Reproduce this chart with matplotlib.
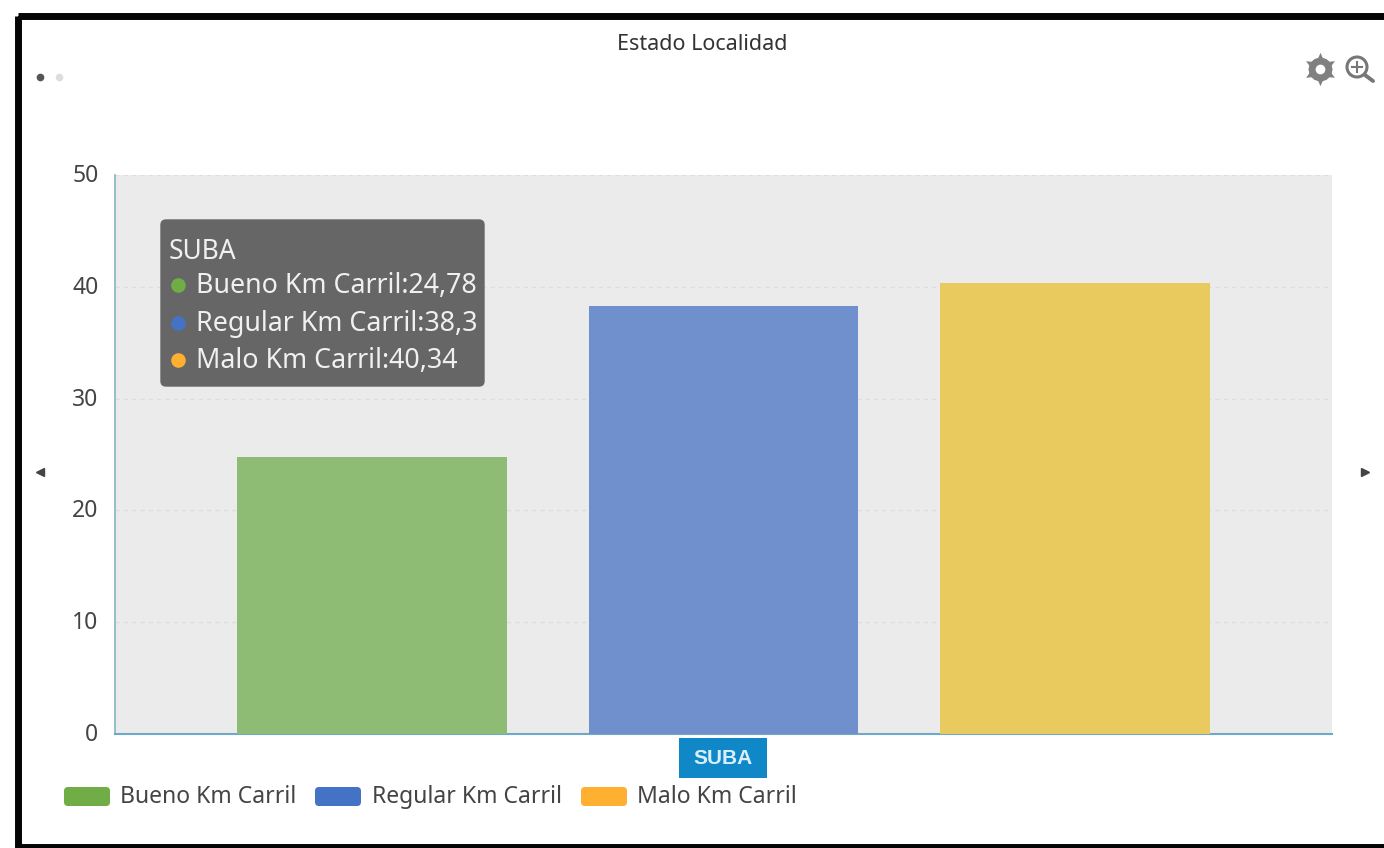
import matplotlib
matplotlib.use("Agg")
import matplotlib.pyplot as plt
from matplotlib.patches import FancyBboxPatch, Circle, Rectangle
from matplotlib.transforms import ScaledTranslation

plt.rcParams['font.family'] = ['Noto Sans', 'DejaVu Sans']

# Data
series_names = ["Bueno Km Carril", "Regular Km Carril", "Malo Km Carril"]
series_values = [24.78, 38.3, 40.34]
value_labels = ["24,78", "38,3", "40,34"]
bar_colors = ["#8fbc75", "#6f90cd", "#e8ca5e"]
key_colors = ["#70ad47", "#4472c4", "#ffb030"]
y_ticks = [0, 10, 20, 30, 40, 50]
category = "SUBA"
chart_title = "Estado Localidad"

W, H = 1384, 848
fig = plt.figure(figsize=(W / 100, H / 100), dpi=100, facecolor="white")

# Main plot area
ax = fig.add_axes([115 / W, 1 - 734 / H, (1332 - 115) / W, (734 - 175) / H])
ax.set_facecolor("#ebebeb")
ax.bar(range(len(series_values)), series_values, width=0.768, color=bar_colors, zorder=3)
ax.set_xlim(-0.731, 2.731)
ax.set_ylim(0, 50)
ax.set_yticks(y_ticks)
ax.set_xticks([])
ax.tick_params(axis="y", length=0, pad=12, labelsize=16.5, labelcolor="#444444")
# tick labels sit a little above their gridlines in the original
nudge = ScaledTranslation(0, 2 / 100, fig.dpi_scale_trans)
for lab in ax.get_yticklabels():
    lab.set_transform(lab.get_transform() + nudge)
ax.grid(axis="y", color="#dddddd", linestyle=(0, (3, 3)), linewidth=1, zorder=1)
for side in ["top", "right"]:
    ax.spines[side].set_visible(False)
ax.spines["left"].set_color("#7fb6c4")
ax.spines["bottom"].set_color("#6fa8c8")
ax.spines["left"].set_linewidth(1.2)
ax.spines["bottom"].set_linewidth(1.5)

# Overlay in pixel coordinates for the widget furniture
ov = fig.add_axes([0, 0, 1, 1], zorder=5)
ov.set_xlim(0, W)
ov.set_ylim(H, 0)
ov.axis("off")

# Black screenshot frame
ov.add_patch(Rectangle((18, 16), W + 20, H - 16 - 1, fill=False, edgecolor="#050505", linewidth=5))

ov.text(702, 44, chart_title, ha="center", va="center", fontsize=15.5, color="#333333")

# Page dots
ov.plot([40], [77], "o", ms=4.5, color="#555555")
ov.plot([59], [77], "o", ms=4.5, color="#dddddd")

# Toolbox icons
ov.plot([1320], [69], marker=(6, 1, 0), ms=24, color="#808080", mew=0)
ov.plot([1320], [69], marker=(6, 1, 30), ms=18, color="#808080", mew=0)
ov.plot([1320], [69], "o", ms=17, color="#808080", mew=0)
ov.plot([1320], [69], "o", ms=7, color="white", mew=0)
ov.add_patch(Circle((1357, 67), 10, fill=False, edgecolor="#777777", linewidth=2.2))
ov.plot([1365, 1373], [75, 81], color="#777777", lw=2.8, solid_capstyle="round")
ov.plot([1352, 1362], [67, 67], color="#777777", lw=1.5)
ov.plot([1357, 1357], [62, 72], color="#777777", lw=1.5)

# Paging arrows
ov.plot([40], [472], marker="<", ms=6, color="#444444")
ov.plot([1365], [472], marker=">", ms=6, color="#444444")

# Tooltip
ov.add_patch(FancyBboxPatch((161, 220), 323, 166, boxstyle="round,pad=0,rounding_size=5",
                            facecolor="#666666", edgecolor="#666666", linewidth=1, zorder=6))
ov.text(169, 252, category, ha="left", va="center", fontsize=19, color="#f0f0f0", zorder=7)
for i, name in enumerate(series_names):
    y = 285 + i * 37.5
    ov.plot([178], [y], "o", ms=10.5, color=key_colors[i], mew=0, zorder=7)
    ov.text(196, y + 1, f"{name}:{value_labels[i]}", ha="left", va="center", fontsize=19.3,
            color="#f0f0f0", zorder=7)

# Axis pointer label
ov.add_patch(Rectangle((679, 738), 88, 40, facecolor="#1088c8", edgecolor="none"))
ov.text(723, 758, category, ha="center", va="center", fontsize=15, color="#d8eef8",
        fontweight="bold", family="Liberation Sans")

# Legend
key_x = [64, 315, 581]
text_x = [120, 372, 637]
for i, name in enumerate(series_names):
    ov.add_patch(FancyBboxPatch((key_x[i] + 3, 790), 40, 13, boxstyle="round,pad=3,rounding_size=4",
                                facecolor=key_colors[i], edgecolor="none"))
    ov.text(text_x[i], 797, name, ha="left", va="center", fontsize=16.5, color="#444444")

fig.savefig("out.png", dpi=100, facecolor="white")
